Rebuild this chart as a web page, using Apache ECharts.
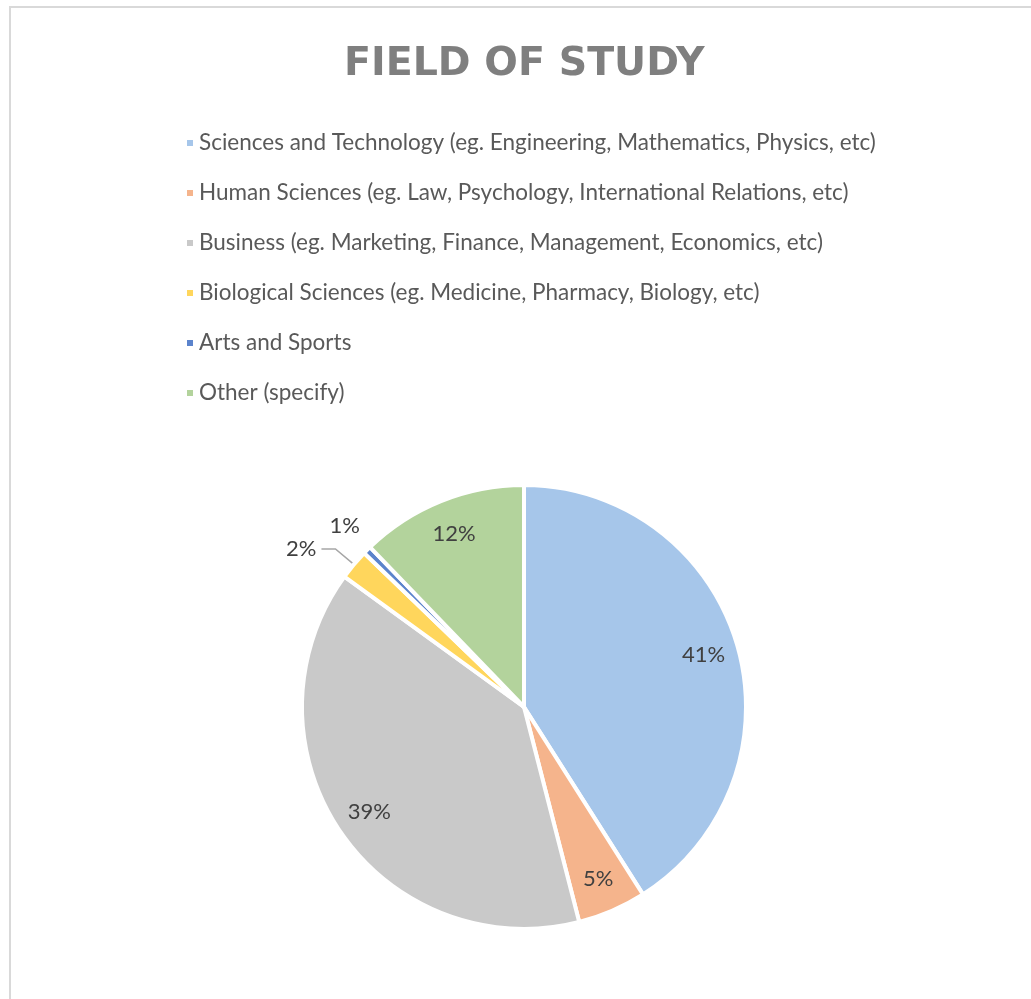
<!DOCTYPE html>
<html>
<head>
<meta charset="utf-8">
<script src="https://cdn.jsdelivr.net/npm/echarts@6/dist/echarts.min.js"></script>
<style>
    html, body { margin: 0; padding: 0; background: #fff; overflow: hidden; }
    #frame { position: absolute; left: 9px; top: 6px; width: 1100px; height: 1100px; border: 2px solid #d9d9d9; }
    #main { position: absolute; left: 0; top: 0; width: 1031px; height: 999px; }
</style>
</head>
<body>
<div id="frame"></div>
<div id="main"></div>
<script>
// field of study shares (percent)
var categories = [
    'Sciences and Technology (eg. Engineering, Mathematics, Physics, etc)',
    'Human Sciences (eg. Law, Psychology, International Relations, etc)',
    'Business (eg. Marketing, Finance, Management, Economics, etc)',
    'Biological Sciences (eg. Medicine, Pharmacy, Biology, etc)',
    'Arts and Sports',
    'Other (specify)'
];
var shares = [41, 5, 39, 2.2, 0.6, 12.2];
var colors = ['#a6c6ea', '#f5b48c', '#c9c9c9', '#ffd65c', '#5b83cc', '#b3d39c'];
// small slices get their label outside the pie
var outside = [false, false, false, true, true, false];

var chart = echarts.init(document.getElementById('main'));

var pieData = categories.map(function (name, i) {
    var item = { name: name, value: shares[i], itemStyle: { color: colors[i] } };
    if (outside[i]) {
        item.label = { show: true };
        item.labelLine = i === 3 ? { show: true, length: 24, length2: 14 } : { show: false, length: 34, length2: -22 };
    } else {
        item.label = { show: false };
    }
    return item;
});
var labelData = categories.map(function (name, i) {
    return { name: name, value: shares[i], label: { show: !outside[i] } };
});

function pct(p) {
    return Math.round(p.percent) + '%';
}

var option = {
    animation: false,
    title: {
        text: 'FIELD OF STUDY',
        left: 339,
        top: 40,
        textStyle: {
            color: '#7f7f7f',
            fontFamily: 'DejaVu Sans',
            fontSize: 39.5,
            fontWeight: 'bold'
        }
    },
    legend: {
        orient: 'vertical',
        left: 180,
        top: 126,
        icon: 'rect',
        itemWidth: 8,
        itemHeight: 8,
        itemGap: 26,
        data: categories,
        textStyle: {
            color: '#595959',
            fontFamily: 'Lato',
            fontSize: 22.5,
            lineHeight: 24
        }
    },
    series: [
        {
            name: 'Field of study',
            type: 'pie',
            center: [524, 707],
            radius: [0, 222],
            startAngle: 90,
            clockwise: true,
            avoidLabelOverlap: false,
            itemStyle: { borderColor: '#fff', borderWidth: 4 },
            label: {
                position: 'outside',
                formatter: pct,
                color: '#404040',
                fontFamily: 'Lato',
                fontSize: 22
            },
            labelLine: { lineStyle: { color: '#a6a6a6', width: 1.5 } },
            emphasis: { disabled: true },
            data: pieData
        },
        {
            // transparent copy that only carries the inside labels
            name: 'labels',
            type: 'pie',
            silent: true,
            center: [524, 707],
            radius: [0, 368],
            startAngle: 90,
            clockwise: true,
            itemStyle: { color: 'transparent', borderWidth: 0 },
            label: {
                position: 'inside',
                formatter: pct,
                color: '#404040',
                fontFamily: 'Lato',
                fontSize: 22
            },
            labelLine: { show: false },
            emphasis: { disabled: true },
            data: labelData
        }
    ]
};
chart.setOption(option);
</script>
</body>
</html>
